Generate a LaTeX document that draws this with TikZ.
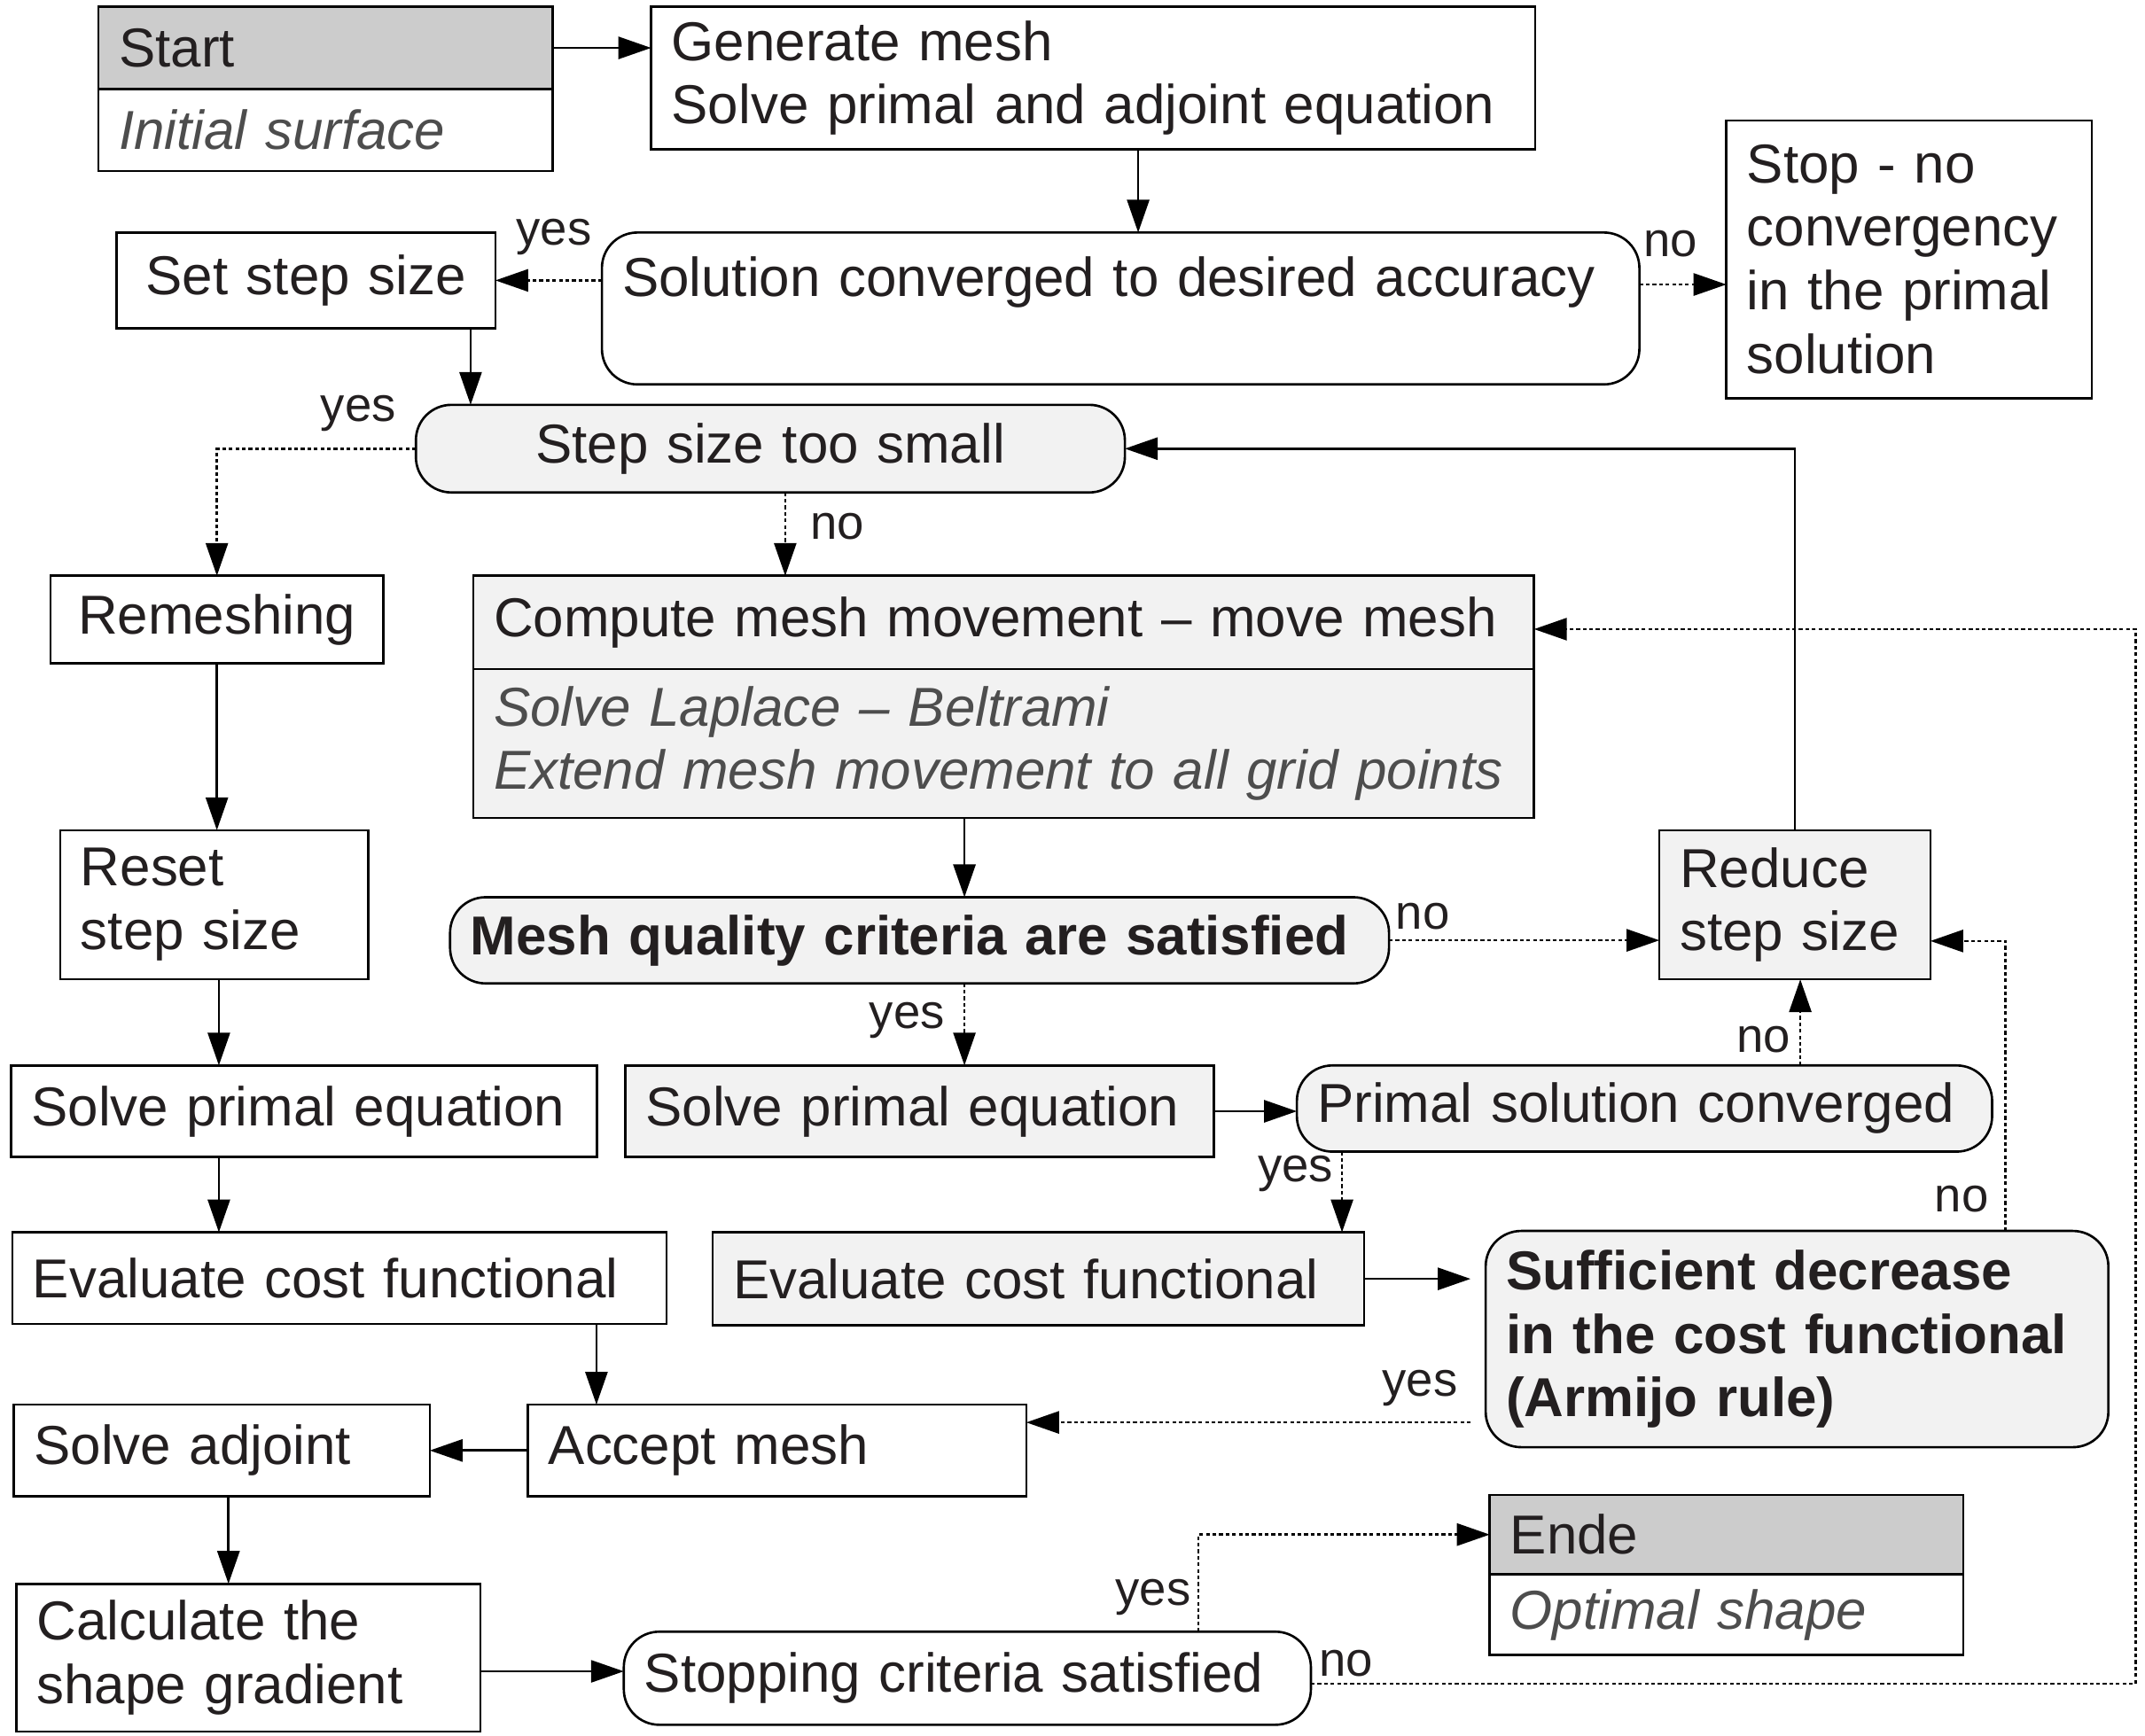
\documentclass[tikz,border=0pt]{standalone}
\usepackage{fontspec}
\setmainfont{Liberation Sans}
\usetikzlibrary{arrows.meta,positioning}

\definecolor{headgray}{HTML}{CCCCCC}
\definecolor{boxgray}{HTML}{F2F2F2}
\definecolor{notegray}{HTML}{4D4D4D}
\definecolor{ink}{HTML}{231F20}

\begin{document}
\begin{tikzpicture}[x=0.015434cm,y=-0.015434cm,line width=0.75pt,
  every node/.style={text=ink},
  base/.style={draw=black, anchor=north west, inner xsep=0.23cm, inner ysep=0pt, outer sep=0pt,
    align=left, font=\fontsize{17.6}{20.4}\selectfont},
  box/.style={base, rectangle},
  grbox/.style={box, fill=boxgray},
  head/.style={box, fill=headgray},
  note/.style={box, font=\fontsize{17.6}{20.4}\selectfont\itshape, text=notegray},
  test/.style={base, rounded corners=0.4cm, fill=boxgray},
  testw/.style={test, fill=white},
  lbl/.style={inner sep=0pt, font=\fontsize{15.5}{18}\selectfont},
  flow/.style={-{Triangle[length=0.37cm,width=0.25cm]}},
  dflow/.style={flow, dash pattern=on 1.2pt off 0.9pt}]
  \useasboundingbox (0,0) rectangle (1568,1269);

  % start and first solve
  \node[head, minimum width=5.124cm, text width=4.664cm, minimum height=0.926cm] (starthead) at (72,5) {Start};
  \node[note, minimum width=5.124cm, text width=4.664cm, minimum height=0.926cm] (startbody) at (starthead.south west) {Initial surface};
  \node[box, minimum width=9.970cm, text width=9.510cm, minimum height=1.605cm] (gen) at (476,5) {Generate mesh\\Solve primal and adjoint equation};
  \node[testw, minimum width=11.699cm, text width=11.239cm, minimum height=1.713cm] (sol) at (440,170) {Solution converged to desired accuracy\\\mbox{}};
  \node[box, minimum width=4.121cm, text width=3.661cm, minimum height=3.133cm] (stop) at (1262,88) {Stop - no\\convergency\\in the primal\\solution};
  \node[box, align=center, minimum width=4.275cm, text width=3.815cm, minimum height=1.080cm] (setstep) at (85,170) {Set step size};
  \node[test, align=center, minimum width=7.995cm, text width=7.535cm, minimum height=0.988cm] (small) at (304,296) {Step size too small};

  % remeshing branch
  \node[box, align=center, minimum width=3.750cm, text width=3.290cm, minimum height=0.988cm] (remesh) at (37,421) {Remeshing};
  \node[box, minimum width=3.473cm, text width=3.013cm, minimum height=1.682cm] (reset) at (44,607) {Reset\\step size};
  \node[box, minimum width=6.606cm, text width=6.146cm, minimum height=1.034cm] (primalL) at (8,779) {Solve primal equation};
  \node[box, minimum width=7.377cm, text width=6.917cm, minimum height=1.034cm] (evalL) at (9,901) {Evaluate cost functional};

  % mesh movement branch
  \node[grbox, minimum width=11.961cm, text width=11.501cm, minimum height=1.050cm] (comphead) at (346,421) {Compute mesh movement – move mesh};
  \node[note, fill=boxgray, minimum width=11.961cm, text width=11.501cm, minimum height=1.682cm] (compbody) at (comphead.south west) {Solve Laplace – Beltrami\\Extend mesh movement to all grid points};
  \node[test, font=\fontsize{17.6}{20.4}\selectfont\bfseries, minimum width=10.588cm, text width=10.128cm, minimum height=0.972cm] (quality) at (329,656) {Mesh quality criteria are satisfied};
  \node[grbox, minimum width=3.056cm, text width=2.596cm, minimum height=1.682cm] (reduce) at (1213,607) {Reduce\\step size};
  \node[grbox, minimum width=6.637cm, text width=6.177cm, minimum height=1.034cm] (primalR) at (457,779) {Solve primal equation};
  \node[test, minimum width=7.840cm, text width=7.380cm, minimum height=0.972cm] (conv) at (948,779) {Primal solution converged};
  \node[grbox, minimum width=7.347cm, text width=6.887cm, minimum height=1.050cm] (evalR) at (521,901) {Evaluate cost functional};
  \node[test, font=\fontsize{17.6}{20.4}\selectfont\bfseries, minimum width=7.022cm, text width=6.562cm, minimum height=2.439cm] (suff) at (1086,900) {Sufficient decrease\\in the cost functional\\(Armijo rule)};

  % adjoint and gradient
  \node[box, minimum width=5.618cm, text width=5.158cm, minimum height=1.034cm] (accept) at (386,1027) {Accept mesh};
  \node[box, minimum width=4.692cm, text width=4.232cm, minimum height=1.034cm] (adjoint) at (10,1027) {Solve adjoint};
  \node[box, minimum width=5.232cm, text width=4.772cm, minimum height=1.667cm] (calc) at (12,1158) {Calculate the\\shape gradient};
  \node[testw, minimum width=7.748cm, text width=7.288cm, minimum height=1.050cm] (stopc) at (456,1193) {Stopping criteria satisfied};
  \node[head, minimum width=5.340cm, text width=4.880cm, minimum height=0.895cm] (endehead) at (1089,1093) {Ende};
  \node[note, minimum width=5.340cm, text width=4.880cm, minimum height=0.911cm] (endebody) at (endehead.south west) {Optimal shape};
  \coordinate (rim) at (1561,460);

  \draw[flow] (starthead.east) -- (starthead.east -| gen.west);
  \draw[flow] (gen.south -| 832,0) -- (sol.north -| 832,0);
  \draw[dflow] (setstep.east -| sol.west) -- (setstep.east);
  \draw[dflow] (sol.east |- 0,208) -- (stop.west |- 0,208);
  \draw[flow] (setstep.south -| 344,0) -- (small.north -| 344,0);
  \draw[dflow] (small.west) -| (remesh.north);
  \draw[dflow] (small.south -| 574,0) -- (comphead.north -| 574,0);
  \draw[flow] (remesh.south) -- (remesh.south |- reset.north);
  \draw[flow] (compbody.south -| 705,0) -- (quality.north -| 705,0);
  \draw[dflow] (quality.east) -- (quality.east -| reduce.west);
  \draw[flow] (reduce.north) |- (small.east);
  \draw[dflow] (quality.south -| 705,0) -- (primalR.north -| 705,0);
  \draw[flow] (reset.south -| 160,0) -- (primalL.north -| 160,0);
  \draw[flow] (primalR.east) -- (primalR.east -| conv.west);
  \draw[dflow] (conv.north -| 1316,0) -- (reduce.south -| 1316,0);
  \draw[dflow] (conv.south -| 981,0) -- (evalR.north -| 981,0);
  \draw[flow] (primalL.south -| 160,0) -- (evalL.north -| 160,0);
  \draw[flow, shorten >=0.17cm] (evalR.east) -- (evalR.east -| suff.west);
  \draw[dflow] (suff.north -| 1466,0) |- (reduce.east |- 0,688);
  \draw[dflow, shorten <=0.17cm] (suff.west |- 0,1040) -- (accept.east |- 0,1040);
  \draw[flow] (evalL.south -| 436,0) -- (accept.north -| 436,0);
  \draw[flow] (accept.west) -- (adjoint.east);
  \draw[flow] (adjoint.south -| 167,0) -- (calc.north -| 167,0);
  \draw[flow] (calc.east |- 0,1222) -- (stopc.west |- 0,1222);
  \draw[dflow] (stopc.north -| 876,0) |- (endehead.west);
  \draw[dflow] (stopc.east |- 0,1231) -| (rim) -- (comphead.east |- rim);

  % yes / no labels
  \foreach \t/\p [count=\i] in {yes/{405,173}, no/{1221,178}, yes/{262,302}, no/{612,385},
      no/{1040,670}, yes/{663,746}, no/{1289,760}, yes/{947,858}, no/{1434,877},
      yes/{1038,1015}, yes/{843,1168}, no/{984,1216}}
    \node[lbl] (lbl\i) at (\p) {\t};
\end{tikzpicture}
\end{document}
